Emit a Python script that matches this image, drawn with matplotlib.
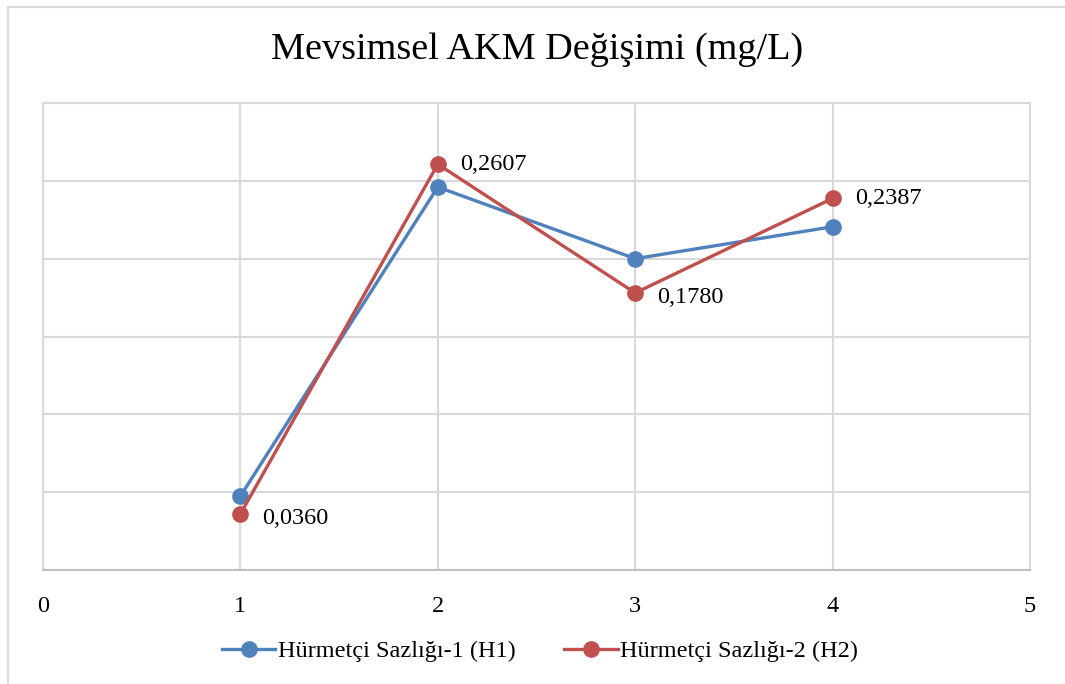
import matplotlib.pyplot as plt
from matplotlib.lines import Line2D

# data
x_vals = [1, 2, 3, 4]
h1_vals = [0.0475, 0.2460, 0.2000, 0.2205]
h2_vals = [0.0360, 0.2607, 0.1780, 0.2387]
h2_labels = ["0,0360", "0,2607", "0,1780", "0,2387"]
series_names = ["Hürmetçi Sazlığı-1 (H1)", "Hürmetçi Sazlığı-2 (H2)"]
title = "Mevsimsel AKM Değişimi (mg/L)"

blue = "#4F81BD"
red = "#C0504D"
grid_col = "#D9D9D9"

plt.rcParams['font.family'] = ['Liberation Serif', 'DejaVu Serif']

fig = plt.figure(figsize=(10.65, 6.84), dpi=100)
ax = fig.add_axes([43 / 1065, 1 - 570 / 684, (1030 - 43) / 1065, (570 - 103) / 684])

ax.plot(x_vals, h1_vals, color=blue, lw=2.4, marker='o', ms=11, label=series_names[0], zorder=3)
ax.plot(x_vals, h2_vals, color=red, lw=2.4, marker='o', ms=11, label=series_names[1], zorder=4)

for x, y, lab in zip(x_vals, h2_vals, h2_labels):
    dy = -3 if lab in ("0,0360", "0,1780") else 0
    ax.annotate(lab, (x, y), xytext=(16, dy), textcoords='offset points',
                ha='left', va='center', fontsize=17.5, color='black')

ax.set_xlim(0, 5)
ax.set_ylim(0, 0.30)
ax.set_xticks([0, 1, 2, 3, 4, 5])
ax.set_yticks([0, 0.05, 0.10, 0.15, 0.20, 0.25, 0.30])
ax.set_yticklabels([])
ax.tick_params(length=0, labelsize=17.5, pad=19)
ax.grid(True, color=grid_col, lw=1.5)
ax.set_axisbelow(True)
for s in ax.spines.values():
    s.set_color(grid_col)
    s.set_linewidth(1.5)
ax.spines['bottom'].set_color("#BFBFBF")

fig.text(537 / 1065, 1 - 50 / 684, title, ha='center', va='center', fontsize=27.5)

handles = [Line2D([], [], color=blue, lw=2.4, marker='o', ms=11),
           Line2D([], [], color=red, lw=2.4, marker='o', ms=11)]
fig.legend(handles, series_names, loc='center', bbox_to_anchor=(540 / 1065, 1 - 651 / 684),
           ncol=2, frameon=False, fontsize=17.5, handlelength=2.2, handletextpad=0.1,
           columnspacing=2.0)

# outer chart border
fig.add_artist(Line2D([8 / 1065, 8 / 1065], [0, 1 - 7 / 684], color=grid_col, lw=1.5,
                      transform=fig.transFigure))
fig.add_artist(Line2D([8 / 1065, 1], [1 - 7 / 684, 1 - 7 / 684], color=grid_col, lw=1.5,
                      transform=fig.transFigure))

fig.savefig("out.png", dpi=100)
